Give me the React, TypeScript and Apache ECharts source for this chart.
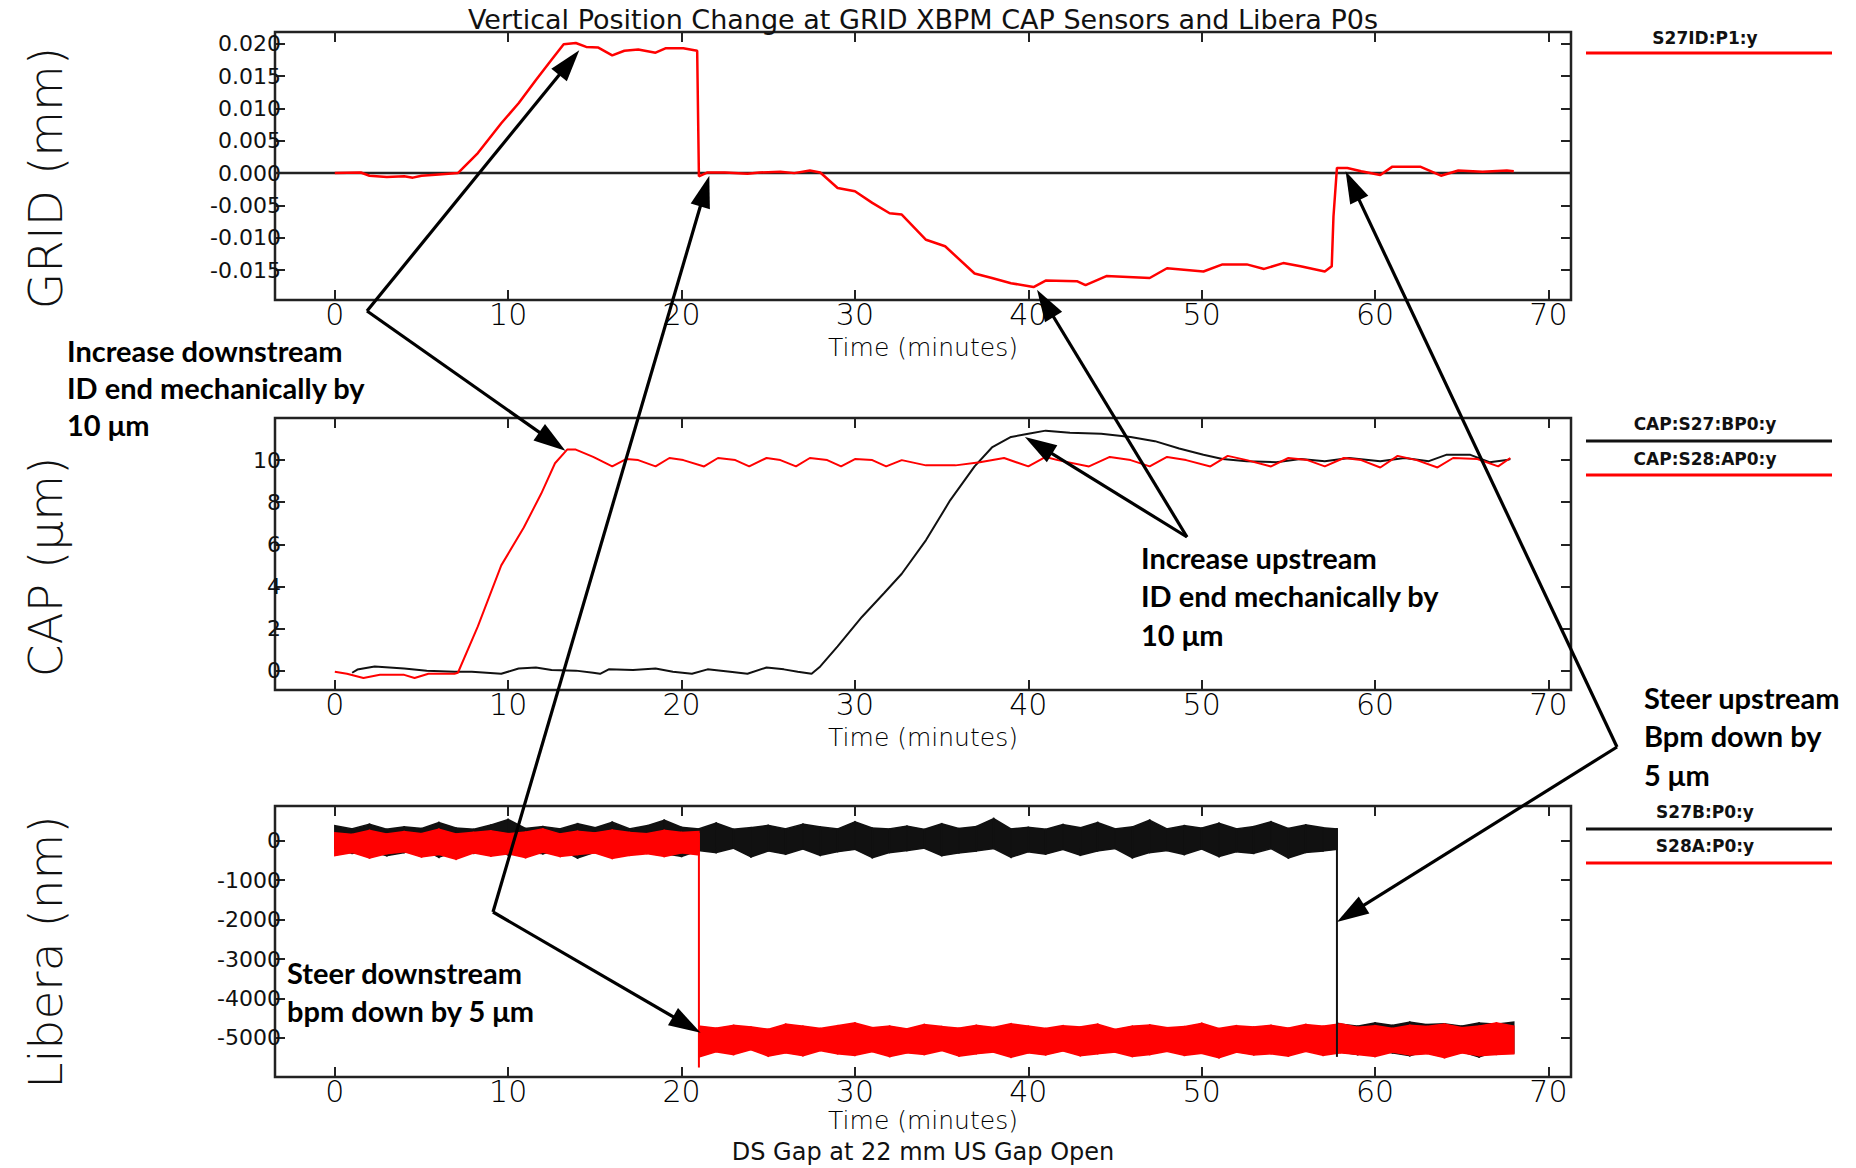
import React, { useEffect, useRef } from 'react';
import * as echarts from 'echarts';

// ---------- axes ----------
const X_MIN = -3.45;
const X_MAX = 71.3;
const X_TICKS = [0, 10, 20, 30, 40, 50, 60, 70];

const GRID_Y_MIN = -0.0196;
const GRID_Y_MAX = 0.0218;
const GRID_Y_TICKS = [-0.015, -0.01, -0.005, 0, 0.005, 0.01, 0.015, 0.02];

const CAP_Y_MIN = -0.92;
const CAP_Y_MAX = 12.0;
const CAP_Y_TICKS = [0, 2, 4, 6, 8, 10];

const LIB_Y_MIN = -5990;
const LIB_Y_MAX = 880;
const LIB_Y_TICKS = [-5000, -4000, -3000, -2000, -1000, 0];

// ---------- GRID XBPM (mm) ----------
const GRID_T = [0, 1.5, 2, 3, 4, 4.5, 5, 6, 7.1, 8.25, 9.6, 10.6, 11.6, 12.5, 13.2, 13.9, 14.5, 15.2, 16, 16.7, 17.5, 18.5, 19.1, 20.1, 20.9, 21.0, 21.5, 22.5, 23.8, 24.5, 25.7, 26.5, 27.4, 28, 29, 30, 31, 32, 32.7, 34.1, 35.2, 36.9, 37.9, 39, 40.3, 41, 42.8, 43.3, 44.5, 47, 48, 50.1, 51.2, 52.6, 53.6, 54.7, 55.7, 57.1, 57.5, 57.6, 57.8, 58.4, 59.2, 60.3, 61, 62.6, 63.8, 64.8, 66.2, 67.6, 68];
const GRID_V = [0, 0.0001, -0.0004, -0.0006, -0.0005, -0.0007, -0.0004, -0.0002, 0, 0.0031, 0.0077, 0.0108, 0.0144, 0.0175, 0.0199, 0.0201, 0.0195, 0.0194, 0.0182, 0.0189, 0.0191, 0.0186, 0.0193, 0.0193, 0.0189, -0.0005, 0.0001, 0.0001, -0.0001, 0.0001, 0.0002, 0, 0.0004, 0.0001, -0.0023, -0.0028, -0.0046, -0.0062, -0.0064, -0.0103, -0.0113, -0.0155, -0.0162, -0.017, -0.0176, -0.0166, -0.0167, -0.0173, -0.0159, -0.0162, -0.0147, -0.0152, -0.0141, -0.0141, -0.0148, -0.0139, -0.0144, -0.0152, -0.0144, -0.0067, 0.0008, 0.0008, 0.0003, -0.0003, 0.001, 0.001, -0.0004, 0.0004, 0.0002, 0.0004, 0.0003];

// ---------- CAP sensors (um) ----------
const CAP_BLACK_T = [1, 1.3, 2.3, 4, 5.3, 6.9, 7.9, 9.6, 10.6, 11.6, 12.5, 13.9, 14.9, 15.3, 15.8, 17.2, 18.5, 19.5, 20.6, 21.5, 22.8, 23.8, 24.9, 25.9, 26.7, 27.5, 28, 29, 30.4, 31.7, 32.7, 34.1, 35.5, 36.9, 37.9, 39, 40, 41, 42.4, 44.2, 45.9, 47.3, 48.7, 50.1, 51.2, 52.6, 54.3, 55.7, 57.1, 58.5, 60.3, 61.7, 63.1, 64.1, 65.5, 66.6, 67.6, 67.8];
const CAP_BLACK_V = [-0.1, 0.05, 0.2, 0.1, 0, -0.05, -0.05, -0.15, 0.1, 0.15, 0.03, 0, -0.1, -0.15, 0.06, 0.03, 0.1, -0.05, -0.15, 0.06, -0.05, -0.15, 0.15, 0.06, -0.05, -0.15, 0.2, 1.15, 2.55, 3.7, 4.6, 6.2, 8.1, 9.7, 10.6, 11.1, 11.25, 11.4, 11.3, 11.25, 11.1, 10.9, 10.55, 10.25, 10.05, 9.95, 9.9, 10.05, 9.95, 10.1, 9.95, 10.1, 9.95, 10.25, 10.25, 9.9, 10.0, 10.05];
const CAP_RED_T = [0, 0.7, 1.65, 2.6, 4, 4.6, 5.4, 6.9, 7.1, 8.25, 9.6, 10.9, 11.9, 12.7, 13.4, 13.9, 14.9, 16, 16.8, 17.5, 18.5, 19.3, 20.1, 21.3, 22.1, 23.1, 23.9, 24.9, 25.7, 26.6, 27.4, 28.4, 29.2, 30, 31, 31.8, 32.7, 34.1, 35.8, 37.2, 38.6, 40, 41, 41.7, 43.5, 44.7, 45.9, 47, 48, 49.1, 50.5, 51.5, 52.6, 54, 55, 56.1, 57.1, 58.2, 59.2, 60.3, 61.3, 62.4, 63.6, 64.5, 65.9, 67.1, 67.8];
const CAP_RED_V = [-0.05, -0.15, -0.35, -0.2, -0.2, -0.35, -0.15, -0.15, -0.1, 2.1, 5.0, 6.8, 8.4, 9.85, 10.5, 10.5, 10.15, 9.7, 10.05, 10.0, 9.7, 10.1, 10.0, 9.7, 10.1, 10.0, 9.7, 10.1, 10.0, 9.7, 10.1, 10.0, 9.7, 10.05, 10.0, 9.7, 10.0, 9.75, 9.75, 9.9, 10.1, 9.7, 10.15, 10.0, 9.7, 10.15, 10.0, 9.7, 10.15, 10.0, 9.7, 10.2, 10.0, 9.7, 10.1, 10.0, 9.7, 10.1, 10.0, 9.65, 10.2, 10.0, 9.65, 10.1, 10.05, 9.7, 10.1];

// ---------- Libera P0 (nm): noise band, lower / upper envelope per minute ----------
const LIB_BLACK1_T = [0, 1, 2, 3, 4, 5, 6, 7, 8, 9, 10, 11, 12, 13, 14, 15, 16, 17, 18, 19, 20, 21, 22, 23, 24, 25, 26, 27, 28, 29, 30, 31, 32, 33, 34, 35, 36, 37, 38, 39, 40, 41, 42, 43, 44, 45, 46, 47, 48, 49, 50, 51, 52, 53, 54, 55, 56, 57, 57.8];
const LIB_BLACK1_HI = [380, 300, 420, 290, 350, 310, 460, 320, 290, 400, 540, 310, 360, 300, 430, 330, 470, 300, 380, 520, 340, 300, 450, 290, 330, 390, 300, 420, 350, 300, 480, 320, 300, 370, 290, 430, 310, 360, 560, 300, 340, 290, 410, 330, 460, 300, 350, 520, 300, 380, 320, 440, 300, 360, 480, 310, 400, 330, 300];
const LIB_BLACK1_LO = [-200, -320, -250, -380, -300, -190, -420, -260, -320, -200, -360, -280, -330, -220, -440, -290, -250, -350, -200, -330, -400, -250, -300, -190, -410, -260, -340, -210, -370, -280, -220, -430, -300, -250, -190, -380, -310, -260, -200, -420, -280, -340, -220, -370, -260, -200, -430, -300, -250, -350, -210, -400, -280, -320, -200, -440, -300, -260, -220];
const LIB_BLACK2_T = [57.8, 58, 59, 60, 61, 62, 63, 64, 65, 66, 67, 68];
const LIB_BLACK2_HI = [-4620, -4650, -4700, -4620, -4680, -4600, -4660, -4640, -4700, -4620, -4650, -4600];
const LIB_BLACK2_LO = [-5300, -5350, -5420, -5300, -5380, -5450, -5320, -5400, -5350, -5480, -5330, -5380];
const LIB_BLACK_STEP = [[57.8, 320], [57.8, -5480]];

const LIB_RED1_T = [0, 1, 2, 3, 4, 5, 6, 7, 8, 9, 10, 11, 12, 13, 14, 15, 16, 17, 18, 19, 20, 21];
const LIB_RED1_HI = [200, 160, 260, 170, 230, 180, 290, 170, 210, 250, 180, 220, 300, 170, 240, 200, 270, 210, 180, 260, 210, 230];
const LIB_RED1_LO = [-380, -300, -440, -330, -280, -410, -350, -470, -310, -390, -330, -430, -290, -400, -350, -310, -450, -370, -330, -400, -310, -360];
const LIB_RED2_T = [21, 22, 23, 24, 25, 26, 27, 28, 29, 30, 31, 32, 33, 34, 35, 36, 37, 38, 39, 40, 41, 42, 43, 44, 45, 46, 47, 48, 49, 50, 51, 52, 53, 54, 55, 56, 57, 58, 59, 60, 61, 62, 63, 64, 65, 66, 67, 68];
const LIB_RED2_HI = [-4700, -4750, -4680, -4720, -4780, -4650, -4700, -4760, -4690, -4620, -4740, -4700, -4770, -4660, -4710, -4750, -4680, -4730, -4640, -4700, -4760, -4690, -4720, -4650, -4780, -4700, -4670, -4740, -4710, -4630, -4760, -4690, -4720, -4680, -4750, -4660, -4700, -4640, -4730, -4690, -4760, -4680, -4710, -4650, -4740, -4700, -4620, -4700];
const LIB_RED2_LO = [-5480, -5350, -5420, -5300, -5460, -5380, -5450, -5320, -5400, -5440, -5350, -5470, -5380, -5420, -5320, -5460, -5400, -5360, -5490, -5380, -5430, -5330, -5450, -5400, -5360, -5470, -5420, -5340, -5440, -5390, -5500, -5360, -5430, -5400, -5460, -5340, -5440, -5380, -5420, -5470, -5360, -5430, -5400, -5500, -5380, -5450, -5420, -5400];
const LIB_RED_STEP = [[21.0, 200], [21.0, -5750]];

// ---------- texts ----------
const TITLE = 'Vertical Position Change at GRID XBPM CAP Sensors and Libera P0s';
const FOOTER = 'DS Gap at 22 mm US Gap Open';
const X_NAME = 'Time (minutes)';
const Y_NAMES = ['GRID (mm)', 'CAP (μm)', 'Libera (nm)'];
const LEGEND_GRID = ['S27ID:P1:y'];
const LEGEND_CAP = ['CAP:S27:BP0:y', 'CAP:S28:AP0:y'];
const LEGEND_LIB = ['S27B:P0:y', 'S28A:P0:y'];
const NOTE_DS = ['Increase downstream', 'ID end mechanically by', '10 μm'];
const NOTE_US = ['Increase upstream', 'ID end mechanically by', '10 μm'];
const NOTE_STEER_US = ['Steer upstream', 'Bpm down by', '5 μm'];
const NOTE_STEER_DS = ['Steer downstream', 'bpm down by 5 μm'];

// arrow tips in data coordinates: [gridIndex, time, value]
const ARROW_TIPS = {
  ds: [[0, 14.1, 0.019], [1, 13.3, 10.45]],
  steerDs: [[0, 21.6, -0.0004], [2, 21.1, -4870]],
  us: [[0, 40.5, -0.018], [1, 39.8, 11.1]],
  steerUs: [[0, 58.3, 0.0003], [2, 57.8, -2060]],
};

// ---------- layout ----------
const W = 1856;
const H = 1168;
const PLOT_LEFT = 275;
const PLOT_WIDTH = 1296;
const PLOT_TOPS = [32, 418, 806];
const PLOT_HEIGHTS = [268, 272, 271];
const NAME_GAPS = [35, 35, 31];
const JUNCTIONS = { ds: [367, 311], steerDs: [493, 912], us: [1187, 537], steerUs: [1617, 747] };

const HERSHEY = 'DejaVu Sans';
const NOTE_FONT = 'Lato';
const RED = '#ff0000';
const BLACK = '#111111';
const AXIS_COLOR = '#222222';

const zip = (t: number[], v: number[]) => t.map((x, i) => [x, v[i]]);

function xAxes(g: number) {
  const common = {
    type: 'value',
    gridIndex: g,
    min: X_MIN,
    max: X_MAX,
    axisLine: { show: false, onZero: false },
    splitLine: { show: false },
    axisTick: { show: true, inside: true, length: 10, customValues: X_TICKS, lineStyle: { color: AXIS_COLOR, width: 2 } },
  };
  return [
    {
      ...common,
      position: 'bottom',
      axisLabel: { show: true, customValues: X_TICKS, margin: 1, fontSize: 30, lineHeight: 26, fontFamily: HERSHEY, fontWeight: 200, color: '#000' },
      name: X_NAME,
      nameLocation: 'middle',
      nameGap: NAME_GAPS[g],
      nameTextStyle: { fontSize: 25, lineHeight: 24, fontFamily: HERSHEY, fontWeight: 200, color: '#000' },
    },
    { ...common, position: 'top', axisLabel: { show: false } },
  ];
}

function yAxes(g: number, min: number, max: number, ticks: number[], fmt: (v: number) => string) {
  const common = {
    type: 'value',
    gridIndex: g,
    min,
    max,
    axisLine: { show: false, onZero: false },
    splitLine: { show: false },
    axisTick: { show: true, inside: true, length: 10, customValues: ticks, lineStyle: { color: AXIS_COLOR, width: 2 } },
  };
  return [
    {
      ...common,
      position: 'left',
      axisLabel: { show: true, customValues: ticks, formatter: fmt, margin: -6, fontSize: 22, fontFamily: HERSHEY, color: '#111' },
    },
    { ...common, position: 'right', axisLabel: { show: false } },
  ];
}

function lineSeries(name: string, axisIdx: number, data: number[][], color: string, width: number) {
  return {
    type: 'line',
    name,
    xAxisIndex: axisIdx,
    yAxisIndex: axisIdx,
    data,
    symbol: 'none',
    showSymbol: false,
    silent: true,
    itemStyle: { color },
    lineStyle: { color, width },
  };
}

// filled noise band between the lower and upper envelope, drawn through the axis scales
function bandSeries(name: string, t: number[], lo: number[], hi: number[], color: string) {
  return {
    type: 'custom',
    name,
    xAxisIndex: 4,
    yAxisIndex: 4,
    silent: true,
    clip: true,
    data: t.map((x, i) => [x, lo[i], hi[i]]),
    encode: { x: 0, y: [1, 2] },
    renderItem: (params: any, api: any) => {
      const i = params.dataIndexInside;
      if (i >= params.dataInsideLength - 1) return { type: 'group', children: [] };
      const t0 = api.value(0, i);
      const t1 = api.value(0, i + 1);
      const a0 = api.coord([t0, api.value(1, i)]);
      const a1 = api.coord([t0, api.value(2, i)]);
      const b1 = api.coord([t1, api.value(2, i + 1)]);
      const b0 = api.coord([t1, api.value(1, i + 1)]);
      return {
        type: 'polygon',
        shape: { points: [a0, a1, b1, b0] },
        style: { fill: color, stroke: color, lineWidth: 1.5 },
      };
    },
  };
}

function textEl(text: string, x: number, y: number, style: any, extra: any = {}) {
  return { type: 'text', x, y, silent: true, z: 50, ...extra, style: { text, ...style } };
}

function staticGraphics() {
  const els: any[] = [];
  els.push(textEl(TITLE, 923, 19, { fontSize: 27, lineHeight: 26, fontFamily: HERSHEY, fill: '#111', align: 'center', verticalAlign: 'middle' }));
  els.push(textEl(FOOTER, 923, 1152, { fontSize: 24, lineHeight: 24, fontFamily: HERSHEY, fill: '#111', align: 'center', verticalAlign: 'middle' }));
  const nameYs = [178, 567, 952];
  Y_NAMES.forEach((n, i) => {
    els.push(textEl(n, 45, nameYs[i], { fontSize: 47, fontFamily: HERSHEY, fontWeight: 200, fill: '#111', align: 'center', verticalAlign: 'middle' }, { rotation: Math.PI / 2 }));
  });
  const legend = (label: string, ty: number, ly: number, color: string) => {
    els.push(textEl(label, 1705, ty, { fontSize: 17, lineHeight: 16, fontFamily: HERSHEY, fontWeight: 'bold', fill: '#111', align: 'center', verticalAlign: 'middle' }));
    els.push({ type: 'line', silent: true, z: 50, shape: { x1: 1586, y1: ly, x2: 1832, y2: ly }, style: { stroke: color, lineWidth: 3 } });
  };
  legend(LEGEND_GRID[0], 38, 53, RED);
  legend(LEGEND_CAP[0], 424, 441, BLACK);
  legend(LEGEND_CAP[1], 459, 475, RED);
  legend(LEGEND_LIB[0], 812, 829, BLACK);
  legend(LEGEND_LIB[1], 846, 863, RED);
  const note = (lines: string[], x: number, firstY: number, step: number) =>
    lines.forEach((t, k) =>
      els.push(textEl(t, x, firstY + k * step, { fontSize: 29, lineHeight: 26, fontFamily: NOTE_FONT, fontWeight: 'bold', fill: '#000', align: 'left', verticalAlign: 'middle' }))
    );
  note(NOTE_DS, 67, 350, 37);
  note(NOTE_US, 1141, 557, 38.5);
  note(NOTE_STEER_US, 1644, 697, 38.5);
  note(NOTE_STEER_DS, 287, 972, 38.5);
  return els;
}

function arrowGraphics(chart: any) {
  const els: any[] = [];
  const HEAD = 32;
  const HW = 10;
  (Object.keys(ARROW_TIPS) as (keyof typeof ARROW_TIPS)[]).forEach((k) => {
    const [jx, jy] = JUNCTIONS[k];
    ARROW_TIPS[k].forEach(([g, t, v]) => {
      const p = chart.convertToPixel({ xAxisIndex: 2 * g, yAxisIndex: 2 * g }, [t, v]);
      if (!p) return;
      const dx = p[0] - jx;
      const dy = p[1] - jy;
      const len = Math.hypot(dx, dy) || 1;
      const ux = dx / len;
      const uy = dy / len;
      const bx = p[0] - ux * HEAD;
      const by = p[1] - uy * HEAD;
      els.push({ type: 'line', silent: true, z: 60, shape: { x1: jx, y1: jy, x2: bx + ux * 2, y2: by + uy * 2 }, style: { stroke: '#000', lineWidth: 3.2 } });
      els.push({
        type: 'polygon',
        silent: true,
        z: 60,
        shape: { points: [[p[0], p[1]], [bx - uy * HW, by + ux * HW], [bx + uy * HW, by - ux * HW]] },
        style: { fill: '#000' },
      });
    });
  });
  return els;
}

function buildOption() {
  const grids = PLOT_TOPS.map((top, i) => ({
    left: PLOT_LEFT,
    top,
    width: PLOT_WIDTH,
    height: PLOT_HEIGHTS[i],
    show: true,
    borderColor: AXIS_COLOR,
    borderWidth: 2.5,
    backgroundColor: 'transparent',
    containLabel: false,
  }));
  const series: any[] = [
    lineSeries('zero', 0, [[X_MIN, 0], [X_MAX, 0]], AXIS_COLOR, 2.5),
    lineSeries(LEGEND_GRID[0], 0, zip(GRID_T, GRID_V), RED, 2.5),
    lineSeries(LEGEND_CAP[0], 2, zip(CAP_BLACK_T, CAP_BLACK_V), BLACK, 2),
    lineSeries(LEGEND_CAP[1], 2, zip(CAP_RED_T, CAP_RED_V), RED, 2),
    bandSeries(LEGEND_LIB[0], LIB_BLACK1_T, LIB_BLACK1_LO, LIB_BLACK1_HI, BLACK),
    bandSeries(LEGEND_LIB[0], LIB_BLACK2_T, LIB_BLACK2_LO, LIB_BLACK2_HI, BLACK),
    lineSeries(LEGEND_LIB[0], 4, LIB_BLACK_STEP, BLACK, 2),
    lineSeries(LEGEND_LIB[1], 4, LIB_RED_STEP, RED, 2),
    bandSeries(LEGEND_LIB[1], LIB_RED1_T, LIB_RED1_LO, LIB_RED1_HI, RED),
    bandSeries(LEGEND_LIB[1], LIB_RED2_T, LIB_RED2_LO, LIB_RED2_HI, RED),
  ];
  return {
    animation: false,
    backgroundColor: '#ffffff',
    grid: grids,
    xAxis: [...xAxes(0), ...xAxes(1), ...xAxes(2)],
    yAxis: [
      ...yAxes(0, GRID_Y_MIN, GRID_Y_MAX, GRID_Y_TICKS, (v: number) => v.toFixed(3)),
      ...yAxes(1, CAP_Y_MIN, CAP_Y_MAX, CAP_Y_TICKS, (v: number) => String(Math.round(v))),
      ...yAxes(2, LIB_Y_MIN, LIB_Y_MAX, LIB_Y_TICKS, (v: number) => String(Math.round(v))),
    ],
    series,
  };
}

export default function App() {
  const ref = useRef<HTMLDivElement>(null);
  useEffect(() => {
    document.body.style.margin = '0';
    if (!ref.current) return;
    const chart = echarts.init(ref.current, null, { renderer: 'svg' });
    chart.setOption(buildOption() as any);
    const elements = [...staticGraphics(), ...arrowGraphics(chart)];
    chart.setOption({ graphic: { elements } } as any);
    return () => chart.dispose();
  }, []);
  return <div ref={ref} style={{ width: W, height: H, background: '#fff' }} />;
}
